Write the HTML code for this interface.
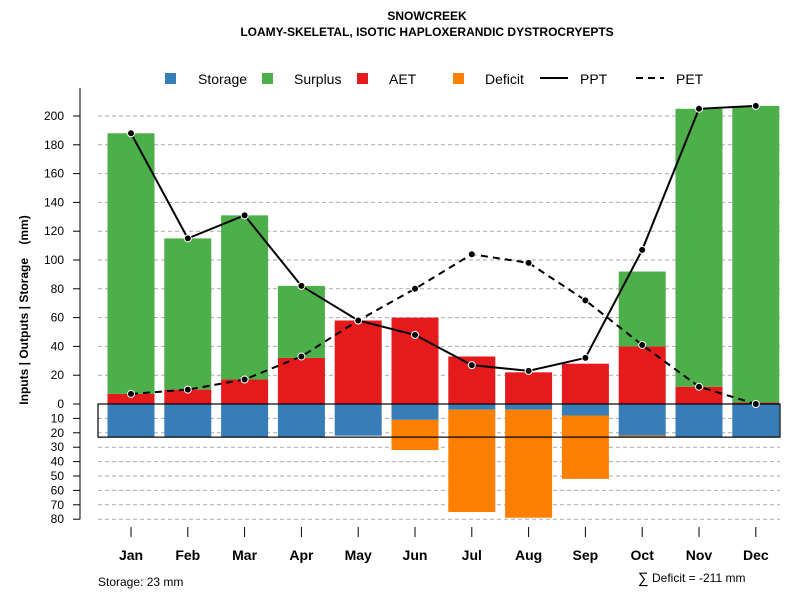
<!DOCTYPE html>
<html><head><meta charset="utf-8"><style>
body{margin:0;background:#fff;font-family:"Liberation Sans",sans-serif}
svg text{font-family:"Liberation Sans",sans-serif}
</style></head><body>
<svg id="c" width="800" height="600" xmlns="http://www.w3.org/2000/svg">
<text x="427" y="20" text-anchor="middle" font-size="12" font-weight="bold">SNOWCREEK</text>
<text x="427" y="36" text-anchor="middle" font-size="12" font-weight="bold">LOAMY-SKELETAL, ISOTIC HAPLOXERANDIC DYSTROCRYEPTS</text>
<g>
<rect x="165" y="73" width="11" height="11" fill="#377EB8"/><text x="198" y="84" font-size="14">Storage</text>
<rect x="262" y="73" width="11" height="11" fill="#4DAF4A"/><text x="294" y="84" font-size="14">Surplus</text>
<rect x="357" y="73" width="11" height="11" fill="#E41A1C"/><text x="389" y="84" font-size="14">AET</text>
<rect x="453" y="73" width="11" height="11" fill="#FF7F00"/><text x="485" y="84" font-size="14">Deficit</text>
<line x1="540" y1="78" x2="568" y2="78" stroke="#000" stroke-width="2"/><text x="580" y="84" font-size="14">PPT</text>
<line x1="636" y1="78" x2="664" y2="78" stroke="#000" stroke-width="2" stroke-dasharray="7,5"/><text x="676" y="84" font-size="14">PET</text>
</g>
<g id="grid"></g><g id="bars"></g><g id="lines"></g><g id="axes"></g>
<text transform="translate(28,310) rotate(-90)" text-anchor="middle" font-size="12" font-weight="bold" xml:space="preserve">Inputs | Outputs | Storage    (mm)</text>
<text x="98" y="586" font-size="12">Storage: 23 mm</text>
<text x="638" y="583" font-size="15">∑</text>
<text x="652" y="582" font-size="12">Deficit = -211 mm</text>
</svg>
<script>
const months=["Jan","Feb","Mar","Apr","May","Jun","Jul","Aug","Sep","Oct","Nov","Dec"];
const ppt=[188,115,131,82,58,48,27,23,32,107,205,207];
const pet=[7,10,17,33,58,80,104,98,72,41,12,0];
const aet=[7,10,17,32,58,60,33,22,28,40,12,1];
const surplus=[181,105,114,50,0,0,0,0,0,52,193,206];
const storage=[23,23,23,23,22,11,4,4,8,22,23,23];
const deficit=[0,0,0,0,0,21,71,75,44,1,0,0];
const posTicks=[0,20,40,60,80,100,120,140,160,180,200];
const negTicks=[10,20,30,40,50,60,70,80];
const storageCap=23;
const NS="http://www.w3.org/2000/svg";
const y0=404,k=1.44;
const ys=v=>y0-v*k;
const xs=i=>131+i*56.8;
const bw=47;
function mk(tag,attrs,parent){const e=document.createElementNS(NS,tag);for(const a in attrs)e.setAttribute(a,attrs[a]);document.getElementById(parent).appendChild(e);return e;}
posTicks.forEach(t=>{if(t>0){const g=mk('line',{x1:98,x2:780,y1:ys(t),y2:ys(t),stroke:'#aaa','stroke-dasharray':'4,3'},'grid');

}});
negTicks.forEach(t=>{const g=mk('line',{x1:98,x2:780,y1:ys(-t),y2:ys(-t),stroke:'#aaa','stroke-dasharray':'4,3'},'grid');

});
months.forEach((m,i)=>{
 const x=xs(i)-bw/2;
 const r=mk('rect',{x:x,y:ys(aet[i]),width:bw,height:aet[i]*k,fill:'#E41A1C'},'bars');
 
 
 if(surplus[i]>0){const g=mk('rect',{x:x,y:ys(aet[i]+surplus[i]),width:bw,height:surplus[i]*k,fill:'#4DAF4A'},'bars');
 
 }
 const s=mk('rect',{x:x,y:y0,width:bw,height:storage[i]*k,fill:'#377EB8'},'bars');
 
 
 if(deficit[i]>0){const d=mk('rect',{x:x,y:ys(-storage[i]),width:bw,height:deficit[i]*k,fill:'#FF7F00'},'bars');
 
 }
 const t=mk('line',{x1:xs(i),x2:xs(i),y1:527,y2:537,stroke:'#000'},'axes');
 
 
 const l=mk('text',{x:xs(i),y:560,'text-anchor':'middle','font-size':14,'font-weight':'bold'},'axes');l.textContent=m;
 
 
});
const box=mk('rect',{x:98,y:y0,width:682,height:storageCap*k,fill:'none',stroke:'#000','stroke-width':1.2},'bars');


function line(arr,dash,name){
 const p=mk('polyline',{points:arr.map((v,i)=>xs(i)+','+ys(v)).join(' '),fill:'none',stroke:'#000','stroke-width':2,'stroke-dasharray':dash},'lines');
 
 
 arr.forEach((v,i)=>{const c=mk('circle',{cx:xs(i),cy:ys(v),r:3.5,fill:'#000',stroke:'#fff','stroke-width':1},'lines');
 
 });
}
line(pet,'7,5','pet');line(ppt,'none','ppt');
const ax=mk('line',{x1:80,x2:80,y1:ys(posTicks[posTicks.length-1])-28,y2:ys(-80),stroke:'#000'},'axes');


posTicks.concat(negTicks.map(t=>-t)).forEach(t=>{
 const tk=mk('line',{x1:73,x2:80,y1:ys(t),y2:ys(t),stroke:'#000'},'axes');
 
 
 const tl=mk('text',{x:64,y:ys(t)+4,'text-anchor':'end','font-size':12},'axes');tl.textContent=Math.abs(t);
 
 
});
</script>
</body></html>
